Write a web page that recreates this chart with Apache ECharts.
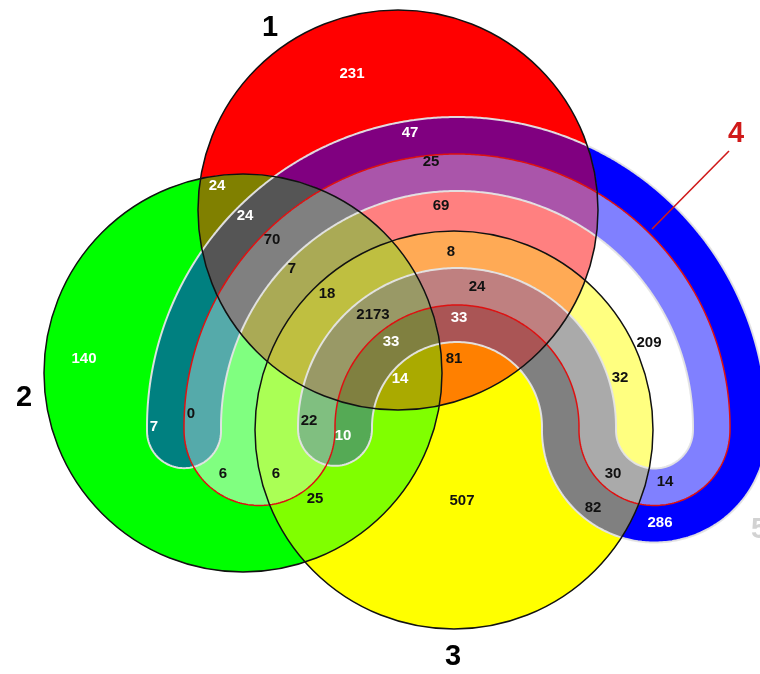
<!DOCTYPE html>
<html>
<head>
<meta charset="utf-8">
<title>Five-set Venn diagram</title>
<script src="https://cdn.jsdelivr.net/npm/echarts/dist/echarts.min.js"></script>
<style>
  html, body { margin: 0; padding: 0; background: #ffffff; }
  #chart { width: 760px; height: 674px; }
</style>
</head>
<body>
<div id="chart"></div>
<script>
// ---------------- data ----------------
const setNames = ['1', '2', '3', '4', '5'];

// each region is named by the sets it belongs to
const regionSets = [
  '1', '15', '145', '14', '134', '1345', '135', '13',
  '12', '125', '1245', '124', '1234', '12345', '1235', '123',
  '2', '25', '245', '24', '234', '2345', '235', '23',
  '3', '4', '34', '345', '45', '35', '5'
];
const regionCounts = [
  231, 47, 25, 69, 8, 24, 33, 81,
  24, 24, 70, 7, 18, 2173, 33, 14,
  140, 7, 0, 6, 6, 22, 10, 25,
  507, 209, 32, 30, 14, 82, 286
];

// ---------------- layout & style ----------------
// plane units: 760 x 674, y grows downward
const labelAnchors = [
  [352, 74], [410, 133], [431, 162], [441, 206], [451, 252], [477, 287], [459, 318], [454, 359],
  [217, 186], [245, 216], [272, 240], [292, 269], [327, 294], [373, 315], [391, 342], [400, 379],
  [84, 359], [154, 427], [191, 414], [223, 474], [276, 474], [309, 421], [343, 436], [315, 499],
  [462, 501], [649, 343], [620, 378], [613, 474], [665, 482], [593, 508], [660, 523]
];
const whiteInkRegions = ['1', '15', '135', '12', '125', '1235', '123', '2', '25', '235', '5'];

const setColors = [[255, 0, 0], [0, 255, 0], [255, 255, 0], [255, 255, 255], [0, 0, 255]];
const setLabelAnchors = [[270, 28], [24, 398], [453, 657], [736, 134], [759, 530]];
const setLabelInk = ['#000000', '#000000', '#000000', '#d01a1a', '#d2d2d2'];
const pointerLine = [[729, 151], [652, 229]];

// shapes of sets 1-3 (circles: cx, cy, r)
const circles = [[398, 210, 200], [243, 373, 199], [454, 430, 199]];
// sets 4 and 5 are bands around a common centre
const C = [457, 427];
const R_OUT = 273, R_IN = 122, BAND = 37, END_DROP = 3;
const R_MID = (R_OUT + R_IN) / 2, HALF = (R_OUT - R_IN) / 2;
const EPS = Math.asin(END_DROP / R_MID);

// ---------------- signed distance of each set ----------------
function arcDist(x, y, R) {
  const dx = x - C[0], dy = y - C[1];
  let a = Math.atan2(dy, dx);
  if (a > Math.PI / 2) a -= 2 * Math.PI;
  if (a >= -Math.PI - EPS && a <= EPS) return Math.abs(Math.hypot(dx, dy) - R);
  const ex = R * Math.cos(EPS), ey = C[1] + R * Math.sin(EPS);
  return Math.min(Math.hypot(x - (C[0] - ex), y - ey), Math.hypot(x - (C[0] + ex), y - ey));
}
function turnDist(x, y) {
  const px = C[0] + R_MID * Math.cos(EPS), py = C[1] + R_MID * Math.sin(EPS);
  const qx = x - px, qy = y - py;
  const tx = -Math.sin(EPS), ty = Math.cos(EPS);
  if (qx * tx + qy * ty >= 0) return Math.abs(Math.hypot(qx, qy) - HALF);
  const nx = Math.cos(EPS), ny = Math.sin(EPS);
  return Math.min(Math.hypot(qx - HALF * nx, qy - HALF * ny), Math.hypot(qx + HALF * nx, qy + HALF * ny));
}
const setSdf = [
  (x, y) => Math.hypot(x - circles[0][0], y - circles[0][1]) - circles[0][2],
  (x, y) => Math.hypot(x - circles[1][0], y - circles[1][1]) - circles[1][2],
  (x, y) => Math.hypot(x - circles[2][0], y - circles[2][1]) - circles[2][2],
  (x, y) => arcDist(x, y, R_MID) - HALF,
  (x, y) => Math.min(arcDist(x, y, R_OUT), arcDist(x, y, R_IN), turnDist(x, y)) - BAND
];

// ---------------- sampling grid ----------------
const STEP = 2, X0 = -12, Y0 = -12, NX = 402, NY = 358;
const fields = setSdf.map(f => {
  const arr = new Float32Array(NX * NY);
  for (let j = 0; j < NY; j++) {
    for (let i = 0; i < NX; i++) arr[j * NX + i] = f(X0 + i * STEP, Y0 + j * STEP);
  }
  return arr;
});

// ---------------- marching squares: closed, consistently oriented rings ----------------
const CX = [0, 1, 1, 0], CY = [0, 0, 1, 1];
function edgeKey(i, j, e) {
  if (e === 0) return (j * NX + i) * 2;
  if (e === 1) return (j * NX + i + 1) * 2 + 1;
  if (e === 2) return ((j + 1) * NX + i) * 2;
  return (j * NX + i) * 2 + 1;
}
function edgePt(i, j, e, v) {
  const a = e, b = (e + 1) % 4;
  let t = v[a] / (v[a] - v[b]);
  t = Math.min(0.9999, Math.max(0.0001, t));
  return [X0 + (i + CX[a] + t * (CX[b] - CX[a])) * STEP, Y0 + (j + CY[a] + t * (CY[b] - CY[a])) * STEP];
}
function traceRings(vals) {
  const segStart = new Map();
  const segs = [];
  const v = [0, 0, 0, 0], ins = [false, false, false, false];
  for (let j = 0; j < NY - 1; j++) {
    for (let i = 0; i < NX - 1; i++) {
      const k0 = j * NX + i;
      v[0] = vals[k0]; v[1] = vals[k0 + 1]; v[2] = vals[k0 + NX + 1]; v[3] = vals[k0 + NX];
      let n = 0;
      for (let c = 0; c < 4; c++) { ins[c] = v[c] < 0; if (ins[c]) n++; }
      if (n === 0 || n === 4) continue;
      const edges = [];
      for (let e = 0; e < 4; e++) if (ins[e] !== ins[(e + 1) % 4]) edges.push(e);
      let pairs;
      if (edges.length === 2) pairs = [[edges[0], edges[1]]];
      else {
        const centreIn = (v[0] + v[1] + v[2] + v[3]) / 4 < 0;
        pairs = centreIn === ins[0] ? [[0, 1], [2, 3]] : [[3, 0], [1, 2]];
      }
      for (const [ea, eb] of pairs) {
        const pa = edgePt(i, j, ea, v), pb = edgePt(i, j, eb, v);
        let kc = 0;
        if ((ea + 1) % 4 === eb) kc = eb; else if ((eb + 1) % 4 === ea) kc = ea;
        const kx = X0 + (i + CX[kc]) * STEP, ky = Y0 + (j + CY[kc]) * STEP;
        const cr = (pb[0] - pa[0]) * (ky - pa[1]) - (pb[1] - pa[1]) * (kx - pa[0]);
        let s, e, p;
        if ((cr > 0) === ins[kc]) { s = edgeKey(i, j, ea); e = edgeKey(i, j, eb); p = pa; }
        else { s = edgeKey(i, j, eb); e = edgeKey(i, j, ea); p = pb; }
        segStart.set(s, segs.length);
        segs.push({ s: s, e: e, p: p });
      }
    }
  }
  const used = new Uint8Array(segs.length);
  const rings = [];
  for (let n = 0; n < segs.length; n++) {
    if (used[n]) continue;
    const ring = [];
    let cur = n;
    while (cur !== undefined && !used[cur]) {
      used[cur] = 1;
      ring.push(segs[cur].p);
      cur = segStart.get(segs[cur].e);
    }
    if (ring.length > 2) rings.push(ring);
  }
  return rings;
}

// region membership field: inside every listed set and outside the others
function regionField(key) {
  const member = setNames.map(s => key.indexOf(s) >= 0);
  const out = new Float32Array(NX * NY);
  for (let k = 0; k < out.length; k++) {
    let m = -Infinity;
    for (let s = 0; s < 5; s++) {
      const d = member[s] ? fields[s][k] : -fields[s][k];
      if (d > m) m = d;
    }
    out[k] = m;
  }
  return out;
}
function regionColor(key) {
  const idx = setNames.map((s, i) => key.indexOf(s) >= 0 ? i : -1).filter(i => i >= 0);
  const c = [0, 1, 2].map(ch => Math.round(idx.reduce((a, i) => a + setColors[i][ch], 0) / idx.length));
  return 'rgb(' + c.join(',') + ')';
}

const regionRings = regionSets.map(k => traceRings(regionField(k)));
const regionFill = regionSets.map(regionColor);
const set4Rings = traceRings(fields[3]);
const set5Rings = traceRings(fields[4]);

function ringsToPath(rings, api) {
  let d = '';
  for (const ring of rings) {
    for (let n = 0; n < ring.length; n++) {
      const q = api.coord(ring[n]);
      d += (n ? 'L' : 'M') + q[0].toFixed(2) + ' ' + q[1].toFixed(2);
    }
    d += 'Z';
  }
  return d;
}

const FONT = '"Liberation Sans", Arial, Helvetica, sans-serif';

const chart = echarts.init(document.getElementById('chart'), null, { renderer: 'canvas' });
chart.setOption({
  animation: false,
  backgroundColor: '#ffffff',
  grid: { left: 0, right: 0, top: 0, bottom: 0 },
  xAxis: { type: 'value', min: 0, max: 760, show: false },
  yAxis: { type: 'value', min: 0, max: 674, inverse: true, show: false },
  series: [
    {
      // filled regions
      type: 'custom',
      silent: true,
      z: 1,
      data: regionCounts.map((c, i) => [i, c]),
      renderItem: function (params, api) {
        const i = params.dataIndex;
        const rings = regionRings[i];
        if (!rings.length) return null;
        return {
          type: 'path',
          shape: { pathData: ringsToPath(rings, api) },
          style: { fill: regionFill[i], stroke: null }
        };
      }
    },
    {
      // set outlines
      type: 'custom',
      silent: true,
      z: 2,
      data: [[0, 0]],
      renderItem: function (params, api) {
        const children = [
          {
            type: 'path',
            shape: { pathData: ringsToPath(set5Rings, api) },
            style: { fill: null, stroke: 'rgba(228,228,228,0.95)', lineWidth: 2 }
          },
          {
            type: 'path',
            shape: { pathData: ringsToPath(set4Rings, api) },
            style: { fill: null, stroke: '#dd1111', lineWidth: 1.5 }
          }
        ];
        circles.forEach(c => {
          const p = api.coord([c[0], c[1]]);
          const r = api.size([c[2], c[2]])[0];
          children.push({
            type: 'circle',
            shape: { cx: p[0], cy: p[1], r: r },
            style: { fill: null, stroke: '#111111', lineWidth: 1.5 }
          });
        });
        return { type: 'group', children: children };
      }
    },
    {
      // region counts
      type: 'custom',
      silent: true,
      z: 3,
      data: regionCounts.map((c, i) => [i, c]),
      renderItem: function (params, api) {
        const i = params.dataIndex;
        const p = api.coord(labelAnchors[i]);
        const white = whiteInkRegions.indexOf(regionSets[i]) >= 0;
        return {
          type: 'text',
          x: p[0], y: p[1],
          style: {
            text: String(regionCounts[i]),
            fill: white ? '#ffffff' : '#111111',
            font: 'bold 15px ' + FONT,
            align: 'center', verticalAlign: 'middle',
            textAlign: 'center', textVerticalAlign: 'middle'
          }
        };
      }
    },
    {
      // set names and the pointer to set 4
      type: 'custom',
      silent: true,
      z: 4,
      data: setNames.map((s, i) => [i, 0]),
      renderItem: function (params, api) {
        const i = params.dataIndex;
        const p = api.coord(setLabelAnchors[i]);
        const children = [{
          type: 'text',
          x: p[0], y: p[1],
          style: {
            text: setNames[i],
            fill: setLabelInk[i],
            font: 'bold 29px ' + FONT,
            align: 'center', verticalAlign: 'middle',
            textAlign: 'center', textVerticalAlign: 'middle'
          }
        }];
        if (i === 3) {
          const a = api.coord(pointerLine[0]), b = api.coord(pointerLine[1]);
          children.push({
            type: 'line',
            shape: { x1: a[0], y1: a[1], x2: b[0], y2: b[1] },
            style: { stroke: '#d01a1a', lineWidth: 1.6 }
          });
        }
        return { type: 'group', children: children };
      }
    }
  ]
});
</script>
</body>
</html>
